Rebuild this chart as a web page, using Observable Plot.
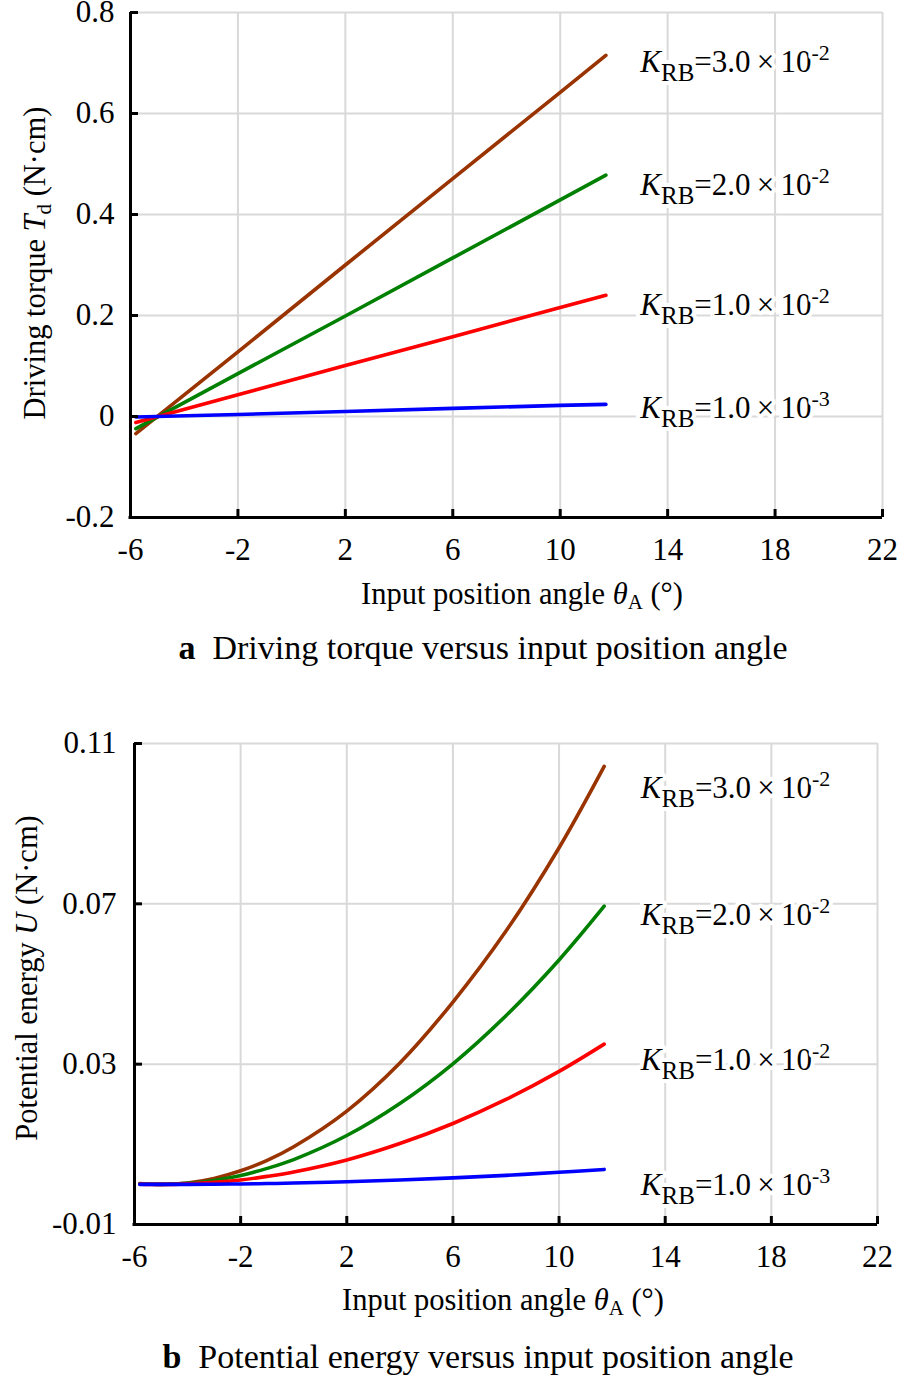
<!DOCTYPE html>
<html><head><meta charset="utf-8">
<script src="https://cdn.jsdelivr.net/npm/d3@7"></script>
<script src="https://cdn.jsdelivr.net/npm/@observablehq/plot@0.6"></script>
<style>
body{margin:0;background:#fff;}
#wrap{position:relative;width:898px;height:1378px;overflow:hidden;}
#wrap svg{position:absolute;left:0;}
</style></head><body><div id="wrap"></div>
<script>
// ---- data ----
const xTicks = [-6, -2, 2, 6, 10, 14, 18, 22];
const yTicksA = [-0.2, 0, 0.2, 0.4, 0.6, 0.8];
const yTicksB = [-0.01, 0.03, 0.07, 0.11];
const seriesKeys = ["K30", "K20", "K10", "K01"];
const labelMantissa = ["3.0", "2.0", "1.0", "1.0"];
const labelExponent = ["-2", "-2", "-2", "-3"];
const seriesColors = ["#993300", "#008000", "#ff0000", "#0000ff"];

// (a) driving torque, N·cm
const thetaA_a = [-5.8, -2, 2, 6, 10, 11.7];
const torqueK30 = [-0.034, 0.128, 0.300, 0.471, 0.642, 0.715];
const torqueK20 = [-0.024, 0.085, 0.199, 0.314, 0.429, 0.478];
const torqueK10 = [-0.012, 0.043, 0.101, 0.158, 0.216, 0.240];
const torqueK01 = [-0.001, 0.004, 0.010, 0.016, 0.022, 0.024];

// (b) potential energy, N·cm
const thetaA_b = [-5.8, -5, -4, -3, -2, -1, 0, 2, 4, 6, 8, 10, 11.7];
const energyK30 = [0.00024, 0, 0.00037, 0.0015, 0.0034, 0.0060, 0.0094, 0.0183, 0.0303, 0.0455, 0.0632, 0.0840, 0.1043];
const energyK20 = [0.00016, 0, 0.00025, 0.0010, 0.0022, 0.0040, 0.0062, 0.0122, 0.0202, 0.0301, 0.0421, 0.0560, 0.0694];
const energyK10 = [0.00008, 0, 0.00013, 0.0005, 0.0011, 0.0020, 0.0031, 0.0061, 0.0102, 0.0152, 0.0212, 0.0282, 0.0350];
const energyK01 = [0.00001, 0, 0.00001, 0.00005, 0.00012, 0.00021, 0.00034, 0.00066, 0.00109, 0.00162, 0.00226, 0.00302, 0.00374];

const torqueSeries = [torqueK30, torqueK20, torqueK10, torqueK01];
const energySeries = [energyK30, energyK20, energyK10, energyK01];

function toRows(xs, seriesList) {
  const rows = [];
  seriesList.forEach((ys, i) => ys.forEach((y, j) => rows.push({key: seriesKeys[i], x: xs[j], y})));
  return rows;
}

// ---- styling ----
const FONT = "'Liberation Serif', 'Times New Roman', serif";
const GRID = "#d9d9d9";
const TICK_FS = 31;
const wrap = d3.select("#wrap");

function rich(parent, x, y, parts, attrs = {}) {
  const t = parent.append("text").attr("x", x).attr("y", y)
    .attr("font-family", FONT).attr("fill", "black").attr("text-anchor", "start");
  for (const k in attrs) t.attr(k, attrs[k]);
  let cur = 0;
  for (const p of parts) {
    const shift = p.shift || 0;
    const ts = t.append("tspan").text(p.t);
    if (shift !== cur) { ts.attr("dy", shift - cur); cur = shift; }
    if (p.size) ts.attr("font-size", p.size);
    if (p.italic) ts.attr("font-style", "italic");
    if (p.bold) ts.attr("font-weight", "bold");
  }
  return t;
}

function makeChart(cfg) {
  const rows = toRows(cfg.xs, cfg.series);
  const innerW = cfg.width - cfg.ml - cfg.mr;
  const innerH = cfg.height - cfg.mt - cfg.mb;
  const chart = Plot.plot({
    width: cfg.width, height: cfg.height,
    marginLeft: cfg.ml, marginRight: cfg.mr, marginTop: cfg.mt, marginBottom: cfg.mb,
    style: {fontFamily: FONT, fontSize: TICK_FS + "px", color: "black", background: "transparent", overflow: "visible"},
    x: {domain: [-6, 22], ticks: xTicks},
    y: {domain: cfg.yDomain, ticks: cfg.yTicks},
    color: {domain: seriesKeys, range: seriesColors},
    marks: [
      Plot.ruleX(xTicks, {stroke: GRID, strokeWidth: 2}),
      Plot.ruleY(cfg.yTicks, {stroke: GRID, strokeWidth: 2}),
      Plot.axisX({ticks: xTicks, tickSize: 0, tickPadding: cfg.xPad, tickFormat: d => `${d}`, label: null, fontSize: TICK_FS}),
      Plot.axisY({ticks: cfg.yTicks, tickSize: 0, tickPadding: cfg.yPad, tickFormat: d => `${d}`, label: null, fontSize: TICK_FS}),
      Plot.line(rows, {x: "x", y: "y", z: "key", stroke: "key", strokeWidth: 3.6, curve: cfg.curve}),
      Plot.ruleX(xTicks, {stroke: "black", strokeWidth: 3, insetTop: innerH - 8}),
      Plot.ruleY(cfg.yTicks, {stroke: "black", strokeWidth: 3, insetRight: innerW - 8}),
      Plot.ruleX([-6], {stroke: "black", strokeWidth: 3}),
      Plot.ruleY([cfg.yDomain[0]], {stroke: "black", strokeWidth: 3, insetLeft: -1.5})
    ]
  });
  const svg = d3.select(chart).style("top", cfg.top + "px");
  wrap.node().appendChild(chart);
  const sx = chart.scale("x"), sy = chart.scale("y");
  const fx = v => sx.apply ? sx.apply(v) : cfg.ml + (v + 6) / 28 * innerW;
  const fy = v => sy.apply ? sy.apply(v) : cfg.mt + (cfg.yDomain[1] - v) / (cfg.yDomain[1] - cfg.yDomain[0]) * innerH;

  // curve labels
  const lab = svg.append("g").attr("font-size", 31);
  cfg.series.forEach((ys, i) => {
    const yEnd = ys[ys.length - 1];
    rich(lab, fx(cfg.labelX), fy(yEnd) + cfg.labelDy[i], [
      {t: "K", italic: true},
      {t: "RB", size: 25, shift: 9},
      {t: "=" + labelMantissa[i] + "\u2009\u00d7\u200910", shift: 0},
      {t: labelExponent[i], size: 22, shift: -12}
    ], {"stroke": "white", "stroke-width": 8, "paint-order": "stroke", "stroke-linejoin": "round"});
  });

  // x axis label
  rich(svg, cfg.xLabelX, cfg.xLabelY, [
    {t: "Input position angle "},
    {t: "\u03b8", italic: true},
    {t: "A", size: 21, shift: 5},
    {t: " (\u00b0)", shift: 0}
  ], {"text-anchor": "middle", "font-size": 30.5});

  // y axis label
  const yl = rich(svg, 0, 0, cfg.yLabelParts, {"text-anchor": "middle", "font-size": 30.5});
  yl.attr("transform", `translate(${cfg.yLabelX},${cfg.yLabelY}) rotate(-90)`);

  // caption
  rich(svg, cfg.capX, cfg.capY, [
    {t: cfg.capLetter, bold: true},
    {t: "\u2002" + cfg.capText}
  ], {"text-anchor": "middle", "font-size": 34});
}

makeChart({
  top: 0, width: 898, height: 680, ml: 130, mr: 16, mt: 12, mb: 163,
  xs: thetaA_a, series: torqueSeries, yDomain: [-0.2, 0.8], yTicks: yTicksA,
  curve: "linear", xPad: 20, yPad: 16,
  labelX: 13, labelDy: [17, 20, 20, 14],
  xLabelX: 522, xLabelY: 604,
  yLabelX: 45, yLabelY: 263,
  yLabelParts: [{t: "Driving torque "}, {t: "T", italic: true}, {t: "d", size: 21, shift: 6}, {t: " (N\u00b7cm)", shift: 0}],
  capLetter: "a", capText: "Driving torque versus input position angle", capX: 483, capY: 659
});

makeChart({
  top: 680, width: 898, height: 698, ml: 134, mr: 21, mt: 63, mb: 154,
  xs: thetaA_b, series: energySeries, yDomain: [-0.01, 0.11], yTicks: yTicksB,
  curve: "catmull-rom", xPad: 20, yPad: 18,
  labelX: 13.1, labelDy: [32, 19, 26, 26],
  xLabelX: 503, xLabelY: 630,
  yLabelX: 37, yLabelY: 298,
  yLabelParts: [{t: "Potential energy "}, {t: "U", italic: true}, {t: " (N\u00b7cm)"}],
  capLetter: "b", capText: "Potential energy versus input position angle", capX: 478, capY: 688
});
</script>
</body></html>
